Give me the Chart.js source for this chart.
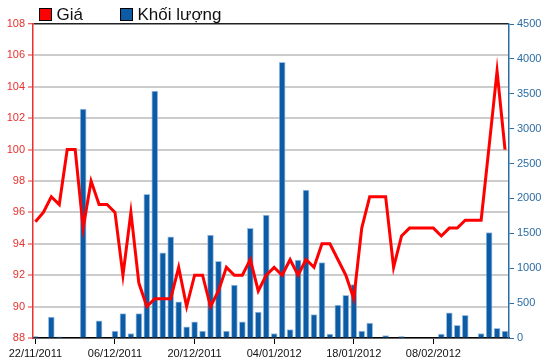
<!DOCTYPE html>
<html>
<head>
<meta charset="utf-8">
<script src="https://cdn.jsdelivr.net/npm/chart.js@4.4.0/dist/chart.umd.min.js"></script>
<style>
    html, body { margin: 0; padding: 0; background: #fff; }
    #wrap { width: 550px; height: 364px; position: relative; }
</style>
</head>
<body>
<div id="wrap"><canvas id="priceChart"></canvas></div>
<script>
// tick labels on the date axis, one every 10 trading sessions
const dateLabels = ['22/11/2011', '06/12/2011', '20/12/2011', '04/01/2012', '18/01/2012', '08/02/2012'];
const labelEvery = 10;

// closing price per session (left axis)
const prices = [
    95.4, 96, 97, 96.5, 100, 100, 95, 98, 96.5, 96.5,
    96, 92, 96, 91.5, 90, 90.5, 90.5, 90.5, 92.5, 90,
    92, 92, 90, 91, 92.5, 92, 92, 93, 91, 92,
    92.5, 92, 93, 92, 93, 92.5, 94, 94, 93, 92,
    90.5, 95, 97, 97, 97, 92.5, 94.5, 95, 95, 95,
    95, 94.5, 95, 95, 95.5, 95.5, 95.5, 100.2, 105, 100
];

// traded volume per session (right axis)
const volumes = [
    20, 0, 300, 15, 0, 0, 3280, 0, 245, 0,
    100, 350, 65, 350, 2060, 3540, 1220, 1450, 520, 160,
    230, 100, 1475, 1100, 100, 760, 230, 1570, 370, 1760,
    65, 3950, 120, 1115, 2120, 335, 1080, 55, 470, 610,
    765, 100, 215, 0, 35, 0, 20, 0, 0, 0,
    0, 55, 360, 180, 325, 0, 65, 1510, 140, 100
];

const RED = '#ff0000';
const AXIS_RED = '#e8302f';
const BLUE = '#0b5ca5';
const AXIS_BLUE = '#2b6ca3';

Chart.defaults.font.family = "'Liberation Sans', Arial, sans-serif";
Chart.defaults.font.size = 11;

// legend drawn above the plot, left aligned like the original
const topLegend = {
    id: 'topLegend',
    afterDraw(chart) {
        const ctx = chart.ctx;
        const items = [
            { x: 39.5, text: chart.data.datasets[0].label, color: chart.data.datasets[0].borderColor },
            { x: 120.5, text: chart.data.datasets[1].label, color: chart.data.datasets[1].backgroundColor }
        ];
        ctx.save();
        ctx.font = "17px 'Liberation Sans', Arial, sans-serif";
        ctx.textBaseline = 'alphabetic';
        items.forEach(item => {
            ctx.fillStyle = item.color;
            ctx.fillRect(item.x, 8.5, 12, 12);
            ctx.strokeStyle = '#000';
            ctx.lineWidth = 1;
            ctx.strokeRect(item.x, 8.5, 12, 12);
            ctx.fillStyle = '#111';
            ctx.fillText(item.text, item.x + 17, 20);
        });
        ctx.restore();
    }
};

const ctx = document.getElementById('priceChart').getContext('2d');

new Chart(ctx, {
    type: 'bar',
    data: {
        datasets: [{
            type: 'line',
            label: 'Giá',
            data: prices.map((v, i) => ({ x: i, y: v })),
            borderColor: RED,
            backgroundColor: RED,
            borderWidth: 3,
            pointRadius: 0,
            tension: 0,
            yAxisID: 'y'
        }, {
            type: 'bar',
            label: 'Khối lượng',
            data: volumes.map((v, i) => ({ x: i, y: v })),
            backgroundColor: BLUE,
            borderColor: 'rgba(120, 165, 215, 0.7)',
            borderWidth: 1,
            barThickness: 6,
            yAxisID: 'y1'
        }]
    },
    options: {
        responsive: true,
        maintainAspectRatio: false,
        animation: false,
        layout: { padding: { top: 24 } },
        plugins: {
            legend: { display: false },
            tooltip: { enabled: false }
        },
        scales: {
            x: {
                type: 'linear',
                offset: false,
                min: -0.3,
                max: 59.5,
                afterBuildTicks: scale => {
                    scale.ticks = dateLabels.map((_, i) => ({ value: i * labelEvery }));
                },
                afterFit: scale => { scale.height = 26; },
                ticks: {
                    color: '#111',
                    maxRotation: 0,
                    autoSkip: false,
                    padding: 3,
                    callback: value => dateLabels[value / labelEvery]
                },
                grid: {
                    offset: false,
                    drawOnChartArea: false,
                    tickColor: '#000',
                    tickWidth: 1,
                    tickLength: 6
                },
                border: { color: '#000', width: 1.5 }
            },
            y: {
                position: 'left',
                min: 88,
                max: 108,
                afterFit: scale => { scale.width = 33; },
                ticks: { stepSize: 2, color: AXIS_RED, padding: 3 },
                grid: {
                    color: c => c.tick && c.tick.value === 108 ? '#222' : '#cccccc',
                    lineWidth: c => c.tick && c.tick.value === 108 ? 1.5 : 2,
                    tickColor: AXIS_RED,
                    tickWidth: 1,
                    tickLength: 5
                },
                border: { color: AXIS_RED, width: 1.5 }
            },
            y1: {
                position: 'right',
                min: 0,
                max: 4500,
                afterFit: scale => { scale.width = 41; },
                ticks: { stepSize: 500, color: AXIS_BLUE, padding: 3, callback: value => String(value) },
                grid: {
                    drawOnChartArea: false,
                    tickColor: AXIS_BLUE,
                    tickWidth: 1,
                    tickLength: 5
                },
                border: { color: AXIS_BLUE, width: 1.5 }
            }
        }
    },
    plugins: [topLegend]
});
</script>
</body>
</html>
